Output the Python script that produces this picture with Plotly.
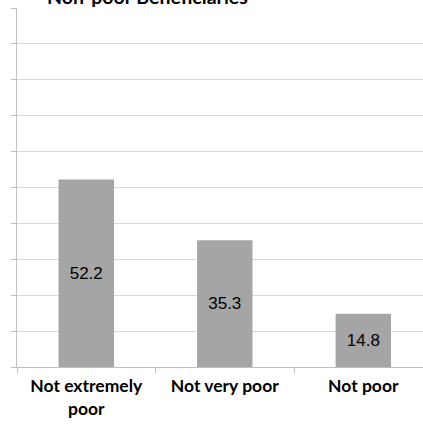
import plotly.graph_objects as go

categories = ["Not extremely<br>poor", "Not very poor", "Not poor"]
values = [52.2, 35.3, 14.8]
labels = ["52.2", "35.3", "14.8"]
title_text = "Non-poor Beneficiaries"

fig = go.Figure(
    go.Bar(
        x=categories,
        y=values,
        text=labels,
        textposition="inside",
        insidetextanchor="middle",
        textangle=0,
        textfont=dict(family="Liberation Sans, Arial, sans-serif", size=17, color="#000000"),
        marker=dict(color="#a5a5a5", line=dict(width=0)),
        width=0.4,
        cliponaxis=False,
    )
)

fig.add_annotation(
    text="<b>" + title_text + "</b>",
    xref="paper", yref="paper",
    x=(147 - 17) / 406, y=1.0 + 12 / 359,
    xanchor="center", yanchor="middle",
    showarrow=False,
    font=dict(family="Lato, Open Sans, sans-serif", size=19.5, color="#000000"),
)

fig.update_layout(
    width=423,
    height=425,
    margin=dict(l=17, r=0, t=8, b=58),
    paper_bgcolor="white",
    plot_bgcolor="white",
    showlegend=False,
    bargap=0.6,
)

fig.update_xaxes(
    type="category",
    range=[-0.5, 2.431],
    showline=True,
    linecolor="#bfbfbf",
    linewidth=1,
    ticks="outside",
    tickson="boundaries",
    ticklen=5,
    tickcolor="#bfbfbf",
    showgrid=False,
    ticklabelstandoff=3,
    tickfont=dict(family="Lato, Open Sans, sans-serif", size=17.5, color="#000000", weight="bold"),
)

fig.update_yaxes(
    range=[0, 100],
    dtick=10,
    showticklabels=False,
    showline=True,
    linecolor="#bfbfbf",
    linewidth=1,
    ticks="outside",
    ticklen=5,
    tickcolor="#bfbfbf",
    showgrid=True,
    gridcolor="#d9d9d9",
    gridwidth=1,
    zeroline=False,
)

fig.write_html("out.html")
